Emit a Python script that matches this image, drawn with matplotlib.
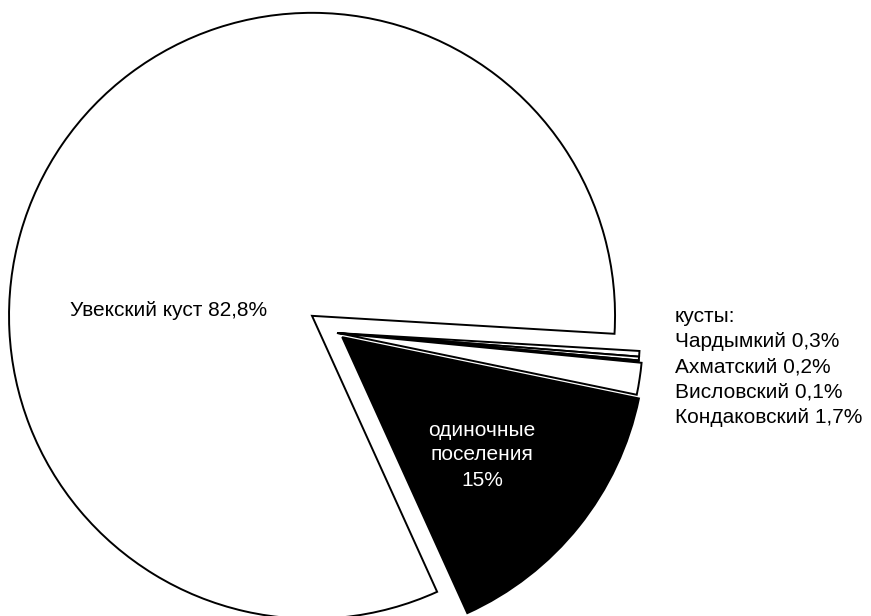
import matplotlib
matplotlib.use("Agg")
import matplotlib.pyplot as plt

plt.rcParams['font.family'] = ['Liberation Sans', 'DejaVu Sans']

# Data (clockwise from the right side)
names = ["Чардымкий", "Ахматский", "Висловский", "Кондаковский", "одиночные поселения", "Увекский куст"]
values = [0.3, 0.2, 0.1, 1.7, 15, 82.8]
colors = ["white", "white", "white", "white", "black", "white"]
explode_frac = [0.0, 0.0, 0.0, 0.01, 0.022, 0.1]
bush_names = names[:4]
bush_values = values[:4]


def fmt(v):
    return f"{v:g}".replace(".", ",")


W, H = 871, 616
fig = plt.figure(figsize=(W / 100, H / 100), dpi=100)
ax = fig.add_axes([0, 0, 1, 1])

cx, cy = 337, H - 333
R = 303
ax.pie(values, colors=colors, explode=[e * R for e in explode_frac], startangle=-3.4,
       counterclock=False, center=(cx, cy), radius=R, normalize=True, frame=True,
       wedgeprops=dict(edgecolor="black", linewidth=1.4, joinstyle="miter"))
ax.set_xlim(0, W)
ax.set_ylim(0, H)
ax.set_aspect("equal")
ax.axis("off")

# labels
ax.text(169, H - 311, f"{names[5]} {fmt(values[5])}%", fontsize=15, ha="center", va="center", color="black")
ax.text(482, H - 455, "одиночные\nпоселения\n" + f"{fmt(values[4])}%", fontsize=15,
        ha="center", va="center", color="white", linespacing=1.4)

right_lines = ["кусты:"] + [f"{n} {fmt(v)}%" for n, v in zip(bush_names, bush_values)]
for i, line in enumerate(right_lines):
    ax.text(675, H - (316 + 25.3 * i), line, fontsize=15, ha="left", va="center", color="black")

fig.savefig("out.png", dpi=100, facecolor="white")
